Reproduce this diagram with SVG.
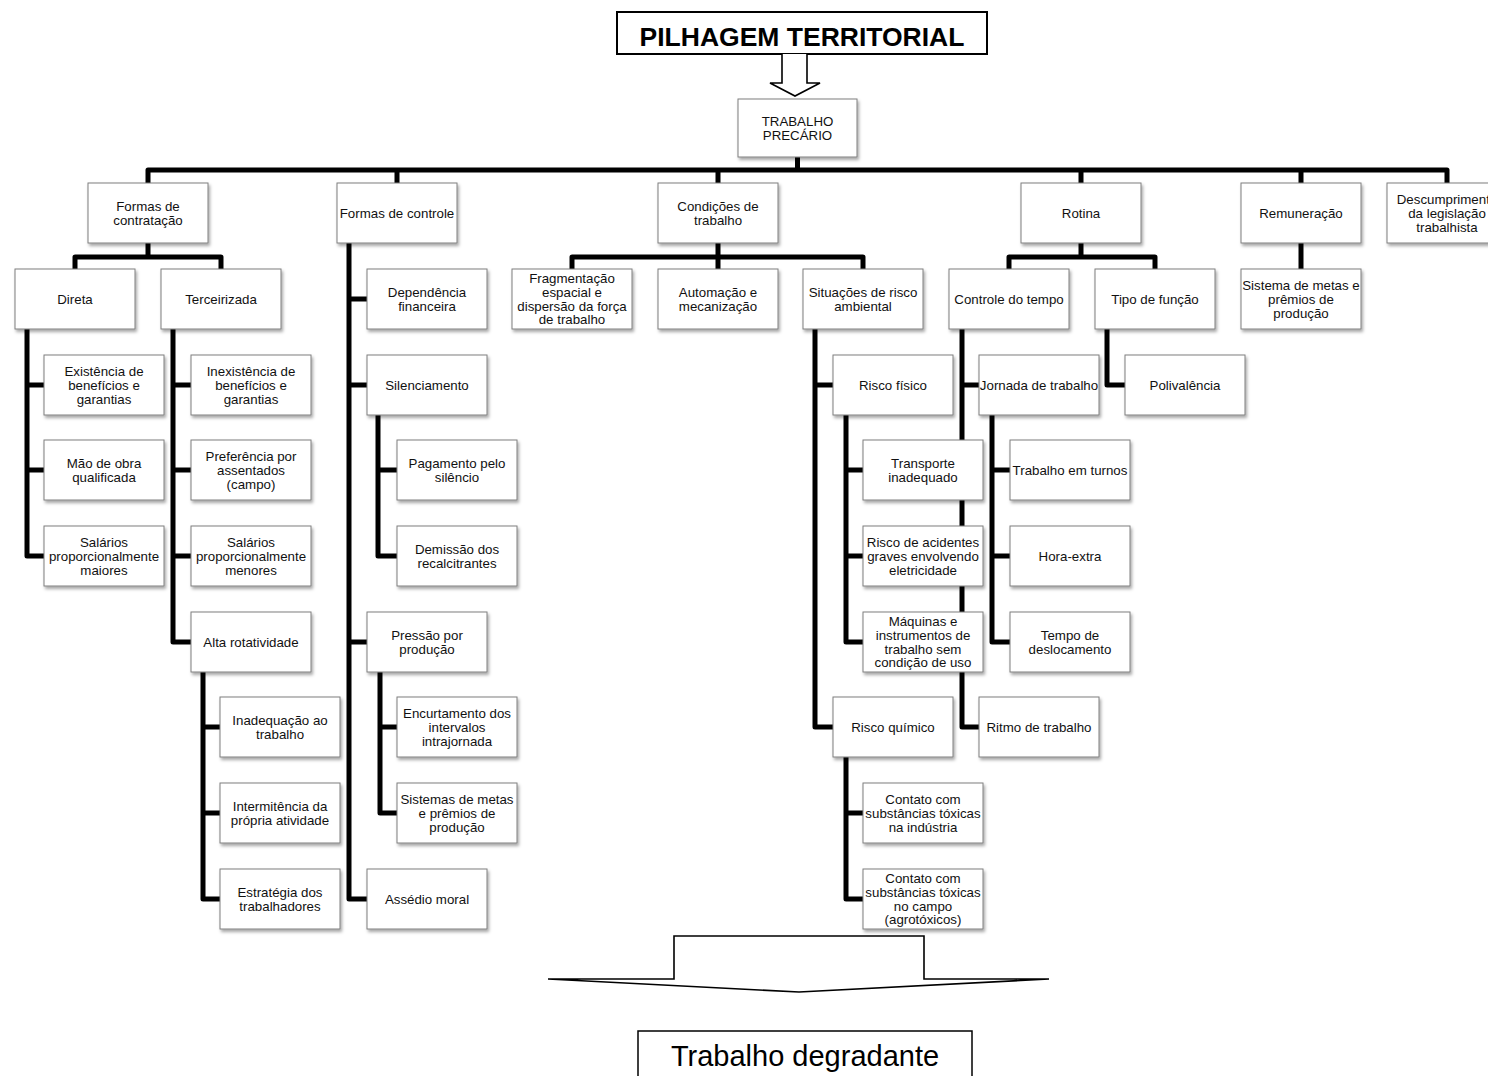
<svg xmlns="http://www.w3.org/2000/svg" width="1488" height="1076" viewBox="0 0 1488 1076">
<defs>
<filter id="sh" x="-10%" y="-10%" width="125%" height="135%">
<feDropShadow dx="1.5" dy="2.5" stdDeviation="1.5" flood-color="#000" flood-opacity="0.35"/>
</filter>
<style>
.n rect{fill:#fff;stroke:#7f7f7f;stroke-width:1;filter:url(#sh)}
.n text{font-family:"Liberation Sans",Arial,sans-serif;font-size:13.3px;text-anchor:middle;fill:#111}
#connectors path{fill:none;stroke:#000;stroke-width:5;stroke-linejoin:round}
.big{fill:#fff;stroke:#000;stroke-width:1.6;stroke-linejoin:miter}
</style>
</defs>
<rect width="1488" height="1076" fill="#fff"/>

<g id="title">
<rect x="617" y="12" width="370" height="42" fill="#fff" stroke="#000" stroke-width="2"/>
<text x="802" y="46" font-family="'Liberation Sans',Arial,sans-serif" font-size="26.5" font-weight="bold" text-anchor="middle">PILHAGEM TERRITORIAL</text>
</g>
<g id="arrow-top">
<path class="big" d="M782,54 V83 H770 L795,96 L820,83 H807 V54"/>
</g>

<g id="connectors">
<path d="M797.5,157 V170"/>
<path d="M148,183 V170 H1447 V183"/>
<path d="M397,170 V183 M718,170 V183 M1081,170 V183 M1301,170 V183"/>
<path d="M148,243 V257 M75,269 V257 H221 V269"/>
<path d="M718,243 V269 M572,269 V257 H863 V269"/>
<path d="M1081,243 V257 M1009,269 V257 H1155 V269"/>
<path d="M1301,243 V269"/>
<path d="M349,243 V899 H367 M349,299 H367 M349,385 H367 M349,642 H367"/>
<path d="M27,329 V556 H44 M27,385 H44 M27,470 H44"/>
<path d="M173,329 V642 H191 M173,385 H191 M173,470 H191 M173,556 H191"/>
<path d="M203,672 V899 H220 M203,727 H220 M203,813 H220"/>
<path d="M378,415 V556 H397 M378,470 H397"/>
<path d="M380,672 V813 H397 M380,727 H397"/>
<path d="M815,329 V727 H833 M815,385 H833"/>
<path d="M846,415 V642 H863 M846,470 H863 M846,556 H863"/>
<path d="M846,757 V899 H863 M846,813 H863"/>
<path d="M962,329 V727 H979 M962,385 H979"/>
<path d="M992,415 V642 H1010 M992,470 H1010 M992,556 H1010"/>
<path d="M1107,329 V385 H1125"/>
</g>

<g id="trabalho-precario" class="n"><rect x="738" y="99" width="119" height="58"/><text x="797.5" y="125.8">TRABALHO</text><text x="797.5" y="139.6">PRECÁRIO</text></g>

<g id="formas-contratacao" class="n"><rect x="88" y="183" width="120" height="60"/><text x="148" y="210.8">Formas de</text><text x="148" y="224.6">contratação</text></g>
<g id="formas-controle" class="n"><rect x="337" y="183" width="120" height="60"/><text x="397" y="217.7">Formas de controle</text></g>
<g id="condicoes" class="n"><rect x="658" y="183" width="120" height="60"/><text x="718" y="210.8">Condições de</text><text x="718" y="224.6">trabalho</text></g>
<g id="rotina" class="n"><rect x="1021" y="183" width="120" height="60"/><text x="1081" y="217.7">Rotina</text></g>
<g id="remuneracao" class="n"><rect x="1241" y="183" width="120" height="60"/><text x="1301" y="217.7">Remuneração</text></g>
<g id="descumprimento" class="n"><rect x="1387" y="183" width="120" height="60"/><text x="1447" y="203.9">Descumprimento</text><text x="1447" y="217.7">da legislação</text><text x="1447" y="231.5">trabalhista</text></g>

<g id="direta" class="n"><rect x="15" y="269" width="120" height="60"/><text x="75" y="303.7">Direta</text></g>
<g id="terceirizada" class="n"><rect x="161" y="269" width="120" height="60"/><text x="221" y="303.7">Terceirizada</text></g>
<g id="dependencia" class="n"><rect x="367" y="269" width="120" height="60"/><text x="427" y="296.8">Dependência</text><text x="427" y="310.6">financeira</text></g>
<g id="fragmentacao" class="n"><rect x="512" y="269" width="120" height="60"/><text x="572" y="283">Fragmentação</text><text x="572" y="296.8">espacial e</text><text x="572" y="310.6">dispersão da força</text><text x="572" y="324.4">de trabalho</text></g>
<g id="automacao" class="n"><rect x="658" y="269" width="120" height="60"/><text x="718" y="296.8">Automação e</text><text x="718" y="310.6">mecanização</text></g>
<g id="situacoes" class="n"><rect x="803" y="269" width="120" height="60"/><text x="863" y="296.8">Situações de risco</text><text x="863" y="310.6">ambiental</text></g>
<g id="controle-tempo" class="n"><rect x="949" y="269" width="120" height="60"/><text x="1009" y="303.7">Controle do tempo</text></g>
<g id="tipo-funcao" class="n"><rect x="1095" y="269" width="120" height="60"/><text x="1155" y="303.7">Tipo de função</text></g>
<g id="sistema-metas-rem" class="n"><rect x="1241" y="269" width="120" height="60"/><text x="1301" y="289.9">Sistema de metas e</text><text x="1301" y="303.7">prêmios de</text><text x="1301" y="317.5">produção</text></g>

<g id="existencia" class="n"><rect x="44" y="355" width="120" height="60"/><text x="104" y="375.9">Existência de</text><text x="104" y="389.7">benefícios e</text><text x="104" y="403.5">garantias</text></g>
<g id="inexistencia" class="n"><rect x="191" y="355" width="120" height="60"/><text x="251" y="375.9">Inexistência de</text><text x="251" y="389.7">benefícios e</text><text x="251" y="403.5">garantias</text></g>
<g id="silenciamento" class="n"><rect x="367" y="355" width="120" height="60"/><text x="427" y="389.7">Silenciamento</text></g>
<g id="risco-fisico" class="n"><rect x="833" y="355" width="120" height="60"/><text x="893" y="389.7">Risco físico</text></g>
<g id="jornada" class="n"><rect x="979" y="355" width="120" height="60"/><text x="1039" y="389.7">Jornada de trabalho</text></g>
<g id="polivalencia" class="n"><rect x="1125" y="355" width="120" height="60"/><text x="1185" y="389.7">Polivalência</text></g>

<g id="mao-de-obra" class="n"><rect x="44" y="440" width="120" height="60"/><text x="104" y="467.8">Mão de obra</text><text x="104" y="481.6">qualificada</text></g>
<g id="preferencia" class="n"><rect x="191" y="440" width="120" height="60"/><text x="251" y="460.9">Preferência por</text><text x="251" y="474.7">assentados</text><text x="251" y="488.5">(campo)</text></g>
<g id="pagamento" class="n"><rect x="397" y="440" width="120" height="60"/><text x="457" y="467.8">Pagamento pelo</text><text x="457" y="481.6">silêncio</text></g>
<g id="transporte" class="n"><rect x="863" y="440" width="120" height="60"/><text x="923" y="467.8">Transporte</text><text x="923" y="481.6">inadequado</text></g>
<g id="turnos" class="n"><rect x="1010" y="440" width="120" height="60"/><text x="1070" y="474.7">Trabalho em turnos</text></g>

<g id="salarios-maiores" class="n"><rect x="44" y="526" width="120" height="60"/><text x="104" y="546.9">Salários</text><text x="104" y="560.7">proporcionalmente</text><text x="104" y="574.5">maiores</text></g>
<g id="salarios-menores" class="n"><rect x="191" y="526" width="120" height="60"/><text x="251" y="546.9">Salários</text><text x="251" y="560.7">proporcionalmente</text><text x="251" y="574.5">menores</text></g>
<g id="demissao" class="n"><rect x="397" y="526" width="120" height="60"/><text x="457" y="553.8">Demissão dos</text><text x="457" y="567.6">recalcitrantes</text></g>
<g id="risco-acidentes" class="n"><rect x="863" y="526" width="120" height="60"/><text x="923" y="546.9">Risco de acidentes</text><text x="923" y="560.7">graves envolvendo</text><text x="923" y="574.5">eletricidade</text></g>
<g id="hora-extra" class="n"><rect x="1010" y="526" width="120" height="60"/><text x="1070" y="560.7">Hora-extra</text></g>

<g id="alta-rotatividade" class="n"><rect x="191" y="612" width="120" height="60"/><text x="251" y="646.7">Alta rotatividade</text></g>
<g id="pressao" class="n"><rect x="367" y="612" width="120" height="60"/><text x="427" y="639.8">Pressão por</text><text x="427" y="653.6">produção</text></g>
<g id="maquinas" class="n"><rect x="863" y="612" width="120" height="60"/><text x="923" y="626">Máquinas e</text><text x="923" y="639.8">instrumentos de</text><text x="923" y="653.6">trabalho sem</text><text x="923" y="667.4">condição de uso</text></g>
<g id="tempo-deslocamento" class="n"><rect x="1010" y="612" width="120" height="60"/><text x="1070" y="639.8">Tempo de</text><text x="1070" y="653.6">deslocamento</text></g>

<g id="inadequacao" class="n"><rect x="220" y="697" width="120" height="60"/><text x="280" y="724.8">Inadequação ao</text><text x="280" y="738.6">trabalho</text></g>
<g id="encurtamento" class="n"><rect x="397" y="697" width="120" height="60"/><text x="457" y="717.9">Encurtamento dos</text><text x="457" y="731.7">intervalos</text><text x="457" y="745.5">intrajornada</text></g>
<g id="risco-quimico" class="n"><rect x="833" y="697" width="120" height="60"/><text x="893" y="731.7">Risco químico</text></g>
<g id="ritmo" class="n"><rect x="979" y="697" width="120" height="60"/><text x="1039" y="731.7">Ritmo de trabalho</text></g>

<g id="intermitencia" class="n"><rect x="220" y="783" width="120" height="60"/><text x="280" y="810.8">Intermitência da</text><text x="280" y="824.6">própria atividade</text></g>
<g id="sistemas-metas" class="n"><rect x="397" y="783" width="120" height="60"/><text x="457" y="803.9">Sistemas de metas</text><text x="457" y="817.7">e prêmios de</text><text x="457" y="831.5">produção</text></g>
<g id="contato-industria" class="n"><rect x="863" y="783" width="120" height="60"/><text x="923" y="803.9">Contato com</text><text x="923" y="817.7">substâncias tóxicas</text><text x="923" y="831.5">na indústria</text></g>

<g id="estrategia" class="n"><rect x="220" y="869" width="120" height="60"/><text x="280" y="896.8">Estratégia dos</text><text x="280" y="910.6">trabalhadores</text></g>
<g id="assedio" class="n"><rect x="367" y="869" width="120" height="60"/><text x="427" y="903.7">Assédio moral</text></g>
<g id="contato-campo" class="n"><rect x="863" y="869" width="120" height="60"/><text x="923" y="883">Contato com</text><text x="923" y="896.8">substâncias tóxicas</text><text x="923" y="910.6">no campo</text><text x="923" y="924.4">(agrotóxicos)</text></g>

<g id="arrow-bottom">
<path class="big" d="M674,979 V936 H924 V979 H1049 L799,992 L548,979 Z"/>
</g>
<g id="trabalho-degradante">
<rect x="638" y="1031" width="334" height="60" fill="#fff" stroke="#000" stroke-width="1.5"/>
<text x="805" y="1066" font-family="'Liberation Sans',Arial,sans-serif" font-size="29" text-anchor="middle">Trabalho degradante</text>
</g>
</svg>
